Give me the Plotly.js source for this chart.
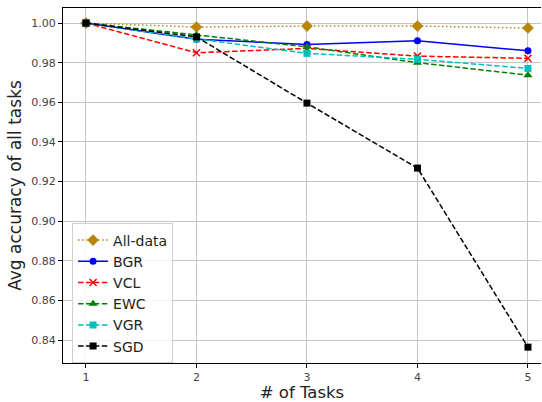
<!DOCTYPE html>
<html><head><meta charset="utf-8">
<script src="https://cdn.plot.ly/plotly-3.0.1.min.js"></script>
<style>html,body{margin:0;padding:0;overflow:hidden;background:#fff}</style>
</head><body><div id="chart" style="width:542px;height:402px"></div>
<script>
var tasks = [1, 2, 3, 4, 5];
var allData = [1.0, 0.998, 0.9985, 0.9985, 0.9975];
var bgr = [1.0, 0.9918, 0.9892, 0.9911, 0.986];
var vcl = [1.0, 0.985, 0.9872, 0.9833, 0.9822];
var ewc = [1.0, 0.994, 0.988, 0.980, 0.9737];
var vgr = [1.0, 0.992, 0.9847, 0.9817, 0.9771];
var sgd = [1.0, 0.993, 0.9596, 0.9268, 0.8364];
var yTicks = [0.84, 0.86, 0.88, 0.90, 0.92, 0.94, 0.96, 0.98, 1.00];

function tr(name, y, color, dash, symbol, size) {
  return {x: tasks, y: y, name: name, type: 'scatter', mode: 'lines+markers',
    line: {color: color, dash: dash, width: 1.5},
    marker: {color: color, symbol: symbol, size: size, line: {width: symbol === 'x-thin' ? 1.5 : 0, color: color}}};
}
var DASH = '5.5px,2.4px', DOT = '1.5px,2.5px';
var data = [
  tr('All-data', allData, '#b8860b', DOT, 'diamond', 9),
  tr('BGR', bgr, '#0000ff', 'solid', 'circle', 7),
  tr('VCL', vcl, '#ff0000', DASH, 'x-thin', 7),
  tr('EWC', ewc, '#008000', DASH, 'triangle-up', 8),
  tr('VGR', vgr, '#00bfbf', DASH, 'square', 7),
  tr('SGD', sgd, '#000000', DASH, 'square', 7)
];
var layout = {
  width: 542, height: 402,
  margin: {l: 63, r: 1, t: 8, b: 39},
  paper_bgcolor: '#fff', plot_bgcolor: '#fff',
  font: {family: 'DejaVu Sans', color: '#333'},
  showlegend: true,
  xaxis: {range: [0.792, 5.118], tickvals: tasks, ticktext: tasks.map(String),
    showgrid: true, gridcolor: '#c4c4c4', gridwidth: 1, zeroline: false,
    showline: true, linecolor: '#000', linewidth: 1, mirror: true,
    ticks: 'outside', ticklen: 4, tickcolor: '#000', tickfont: {size: 11, color: '#444'},
    title: {text: '# of Tasks', font: {size: 16.5, color: '#222'}, standoff: 10}},
  yaxis: {range: [0.8284, 1.0076], tickvals: yTicks, ticktext: yTicks.map(function(v){return v.toFixed(2);}),
    showgrid: true, gridcolor: '#c4c4c4', gridwidth: 1, zeroline: false,
    showline: true, linecolor: '#000', linewidth: 1, mirror: false,
    ticks: 'outside', ticklen: 4, tickcolor: '#000', tickfont: {size: 11, color: '#444'},
    title: {text: 'Avg accuracy of all tasks', font: {size: 17, color: '#222'}, standoff: 5}},
  legend: {x: 0.019, y: 0.393, xanchor: 'left', yanchor: 'top',
    bgcolor: 'rgba(255,255,255,0.85)', bordercolor: '#d0d0d0', borderwidth: 1,
    font: {size: 14, color: '#222'}, tracegroupgap: 0, itemwidth: 30}
};
Plotly.newPlot('chart', data, layout, {displayModeBar: false, staticPlot: true});
</script></body></html>
